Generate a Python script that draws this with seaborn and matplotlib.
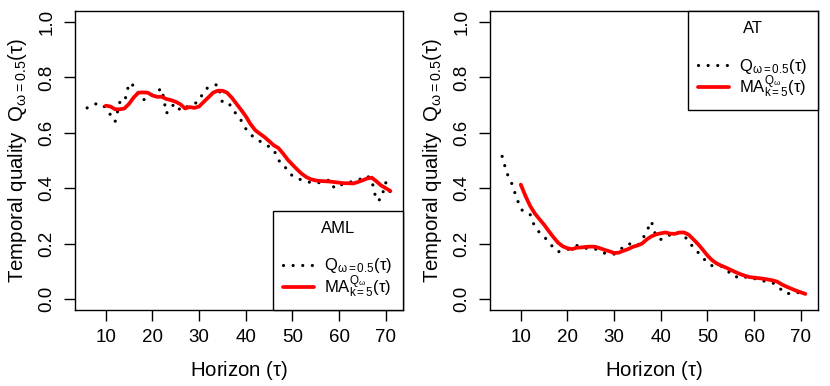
import numpy as np
import pandas as pd
import seaborn as sns
import matplotlib.pyplot as plt

# horizons
tau_q = list(range(6, 72))
tau_ma = list(range(10, 72))

# AML panel
aml_q = [0.69, 0.70, 0.705, 0.705, 0.69, 0.665, 0.64, 0.71, 0.71, 0.78,
         0.77, 0.735, 0.72, 0.72, 0.74, 0.75, 0.76, 0.67, 0.695, 0.705,
         0.68, 0.69, 0.70, 0.705, 0.715, 0.75, 0.765, 0.77, 0.775, 0.71,
         0.71, 0.695, 0.665, 0.645, 0.615, 0.595, 0.58, 0.57, 0.56, 0.55,
         0.54, 0.50, 0.49, 0.46, 0.445, 0.435, 0.43, 0.425, 0.42, 0.42,
         0.42, 0.425, 0.43, 0.40, 0.41, 0.415, 0.42, 0.425, 0.43, 0.435,
         0.445, 0.43, 0.355, 0.36, 0.42, 0.385]
aml_ma = [0.698, 0.695, 0.685, 0.685, 0.688, 0.705, 0.728, 0.745, 0.746, 0.745,
          0.735, 0.73, 0.73, 0.722, 0.718, 0.712, 0.703, 0.688, 0.693, 0.69,
          0.695, 0.712, 0.728, 0.745, 0.752, 0.752, 0.745, 0.727, 0.705, 0.683,
          0.66, 0.632, 0.61, 0.597, 0.585, 0.57, 0.555, 0.545, 0.525, 0.503,
          0.485, 0.468, 0.452, 0.44, 0.432, 0.428, 0.426, 0.425, 0.424, 0.422,
          0.42, 0.418, 0.418, 0.417, 0.422, 0.428, 0.435, 0.438, 0.425, 0.41,
          0.40, 0.39]

# AT panel
at_q = [0.515, 0.455, 0.42, 0.37, 0.325, 0.31, 0.305, 0.26, 0.24, 0.225,
        0.205, 0.185, 0.17, 0.175, 0.178, 0.186, 0.193, 0.186, 0.183, 0.181,
        0.18, 0.172, 0.165, 0.163, 0.162, 0.173, 0.188, 0.20, 0.196, 0.192,
        0.213, 0.245, 0.28, 0.225, 0.215, 0.22, 0.232, 0.243, 0.235, 0.225,
        0.213, 0.183, 0.168, 0.15, 0.13, 0.12, 0.12, 0.118, 0.108, 0.09,
        0.078, 0.085, 0.08, 0.073, 0.073, 0.073, 0.065, 0.061, 0.058, 0.048,
        0.03, 0.018, 0.022, 0.025, 0.02, 0.016]
at_ma = [0.413, 0.372, 0.336, 0.309, 0.288, 0.268, 0.245, 0.223, 0.203, 0.19,
         0.183, 0.18, 0.185, 0.186, 0.188, 0.189, 0.188, 0.183, 0.177, 0.172,
         0.166, 0.167, 0.174, 0.18, 0.188, 0.193, 0.20, 0.215, 0.226, 0.233,
         0.237, 0.24, 0.236, 0.235, 0.24, 0.24, 0.232, 0.215, 0.198, 0.178,
         0.157, 0.14, 0.128, 0.12, 0.113, 0.105, 0.097, 0.09, 0.084, 0.079,
         0.077, 0.075, 0.073, 0.07, 0.067, 0.062, 0.052, 0.044, 0.037, 0.03,
         0.024, 0.018]

x_ticks = [10, 20, 30, 40, 50, 60, 70]
y_ticks = [0.0, 0.2, 0.4, 0.6, 0.8, 1.0]

sns.set_style("ticks")
plt.rcParams['font.family'] = ['Liberation Sans', 'DejaVu Sans']
plt.rcParams['text.color'] = 'black'
plt.rcParams['axes.labelcolor'] = 'black'
plt.rcParams['mathtext.fontset'] = 'custom'
plt.rcParams['mathtext.rm'] = 'Liberation Sans'
plt.rcParams['mathtext.it'] = 'Liberation Sans:italic'
plt.rcParams['mathtext.sf'] = 'Liberation Sans'

q_label = r'$\mathrm{Q}_{\mathrm{\omega=0.5}}(\mathrm{\tau})$'
ma_label = r'$\mathrm{MA}_{\mathrm{k=5}}^{\mathrm{Q_{\omega}}}(\mathrm{\tau})$'

fig = plt.figure(figsize=(8.3, 3.86), dpi=100)
ax1 = fig.add_axes([75 / 830, 1 - 310 / 386, 327.5 / 830, 299 / 386])
ax2 = fig.add_axes([490 / 830, 1 - 310 / 386, 327.5 / 830, 299 / 386])

panels = [(ax1, aml_q, aml_ma, 'AML', 'lower right'),
          (ax2, at_q, at_ma, 'AT', 'upper right')]

for ax, q, ma, name, loc in panels:
    sns.lineplot(x=tau_q, y=q, ax=ax, color='black', linewidth=2.3,
                 linestyle=(0, (0.01, 3.0)), dash_capstyle='round',
                 label=q_label)
    sns.lineplot(x=tau_ma, y=ma, ax=ax, color='#ff0000', linewidth=2.7,
                 label=ma_label)
    ax.set_xlim(3.4, 73.6)
    ax.set_ylim(-0.04, 1.04)
    ax.set_xticks(x_ticks)
    ax.set_yticks(y_ticks)
    ax.set_yticklabels([f'{v:.1f}' for v in y_ticks], rotation=90, va='center')
    ax.tick_params(axis='both', direction='out', length=8, width=1,
                   labelsize=13.5, color='black', labelcolor='black')
    ax.tick_params(axis='x', pad=6)
    ax.tick_params(axis='y', pad=6)
    for s in ax.spines.values():
        s.set_visible(True)
        s.set_color('black')
        s.set_linewidth(1)
    ax.set_xlabel(r'Horizon $(\mathrm{\tau})$', fontsize=14.7, labelpad=9)
    ax.set_ylabel(r'Temporal quality  $\mathrm{Q}_{\mathrm{\omega=0.5}}(\mathrm{\tau})$',
                  fontsize=14.7, labelpad=7)
    leg = ax.legend(loc=loc, title=name + '\n', fontsize=12, title_fontsize=12,
                    frameon=True, fancybox=False, edgecolor='black',
                    framealpha=1, borderaxespad=0, handlelength=1.9,
                    handletextpad=0.6, borderpad=0.6, labelspacing=-0.1)
    leg.get_title().set_linespacing(1.6)
    leg.get_frame().set_linewidth(1)
    ax.grid(False)

plt.savefig('out.png', dpi=100)
plt.close()
